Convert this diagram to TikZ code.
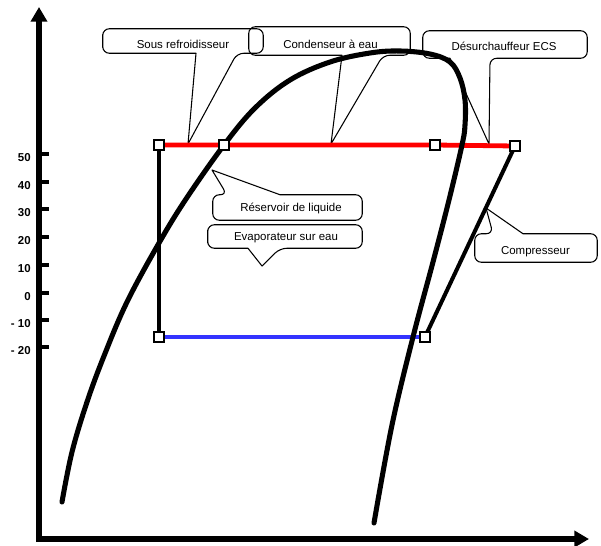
\documentclass[tikz,border=0pt]{standalone}
\usepackage{fontspec}
\setmainfont{Liberation Sans}
\usetikzlibrary{arrows.meta,calc}
\begin{document}
\begin{tikzpicture}[x=0.75pt,y=-0.75pt,
  lbl/.style={font=\fontsize{8.6}{10}\selectfont, inner sep=0pt},
  ticklbl/.style={font=\bfseries\fontsize{8.6}{10}\selectfont, anchor=east, inner sep=0pt},
  cbox/.style={draw=none, inner sep=0pt},
  cline/.style={line width=0.8pt, line join=round},
  sq/.style={draw, fill=white, line width=1.1pt, minimum size=7.8pt, inner sep=0pt},
  axisline/.style={line width=3.8pt, -{Triangle[length=11pt,width=12pt]}},
  tickline/.style={line width=3pt},
  dome/.style={line width=3.8pt, line cap=round, line join=round},
  redline/.style={line width=3.6pt, color=red},
  blueline/.style={line width=3.6pt, color=cyclblue},
  blackline/.style={line width=3pt}
]
\definecolor{cyclblue}{RGB}{51,51,255}
\useasboundingbox (0,0) rectangle (601,546);

% axes
\coordinate (o) at (39,539);
\coordinate (ytop) at (39,7);
\coordinate (xend) at (589,539);
\draw[axisline] (39,542) -- (ytop);
\draw[axisline] (37,539) -- (xend);

% ticks and labels
\foreach \yy/\tt [count=\i] in {154/50,182/40,209/30,237/20,265/10,293/0,320/- 10,347/- 20}{
  \coordinate (t\i a) at (39,\yy);
  \coordinate (t\i b) at (49,\yy);
  \draw[tickline] (t\i a) -- (t\i b);
  \node[ticklbl] (tl\i) at (31,\yy+4) {\tt};
}

% callout boxes
\node[cbox, minimum width=120pt, minimum height=18pt] (sous) at (183,41) {};
\node[cbox, minimum width=120.75pt, minimum height=21pt] (cond) at (329.5,41) {};
\node[cbox, minimum width=123pt, minimum height=20.25pt] (desur) at (505,44.5) {};
\node[cbox, minimum width=111.75pt, minimum height=18.75pt] (reserv) at (287.5,207.5) {};
\node[cbox, minimum width=115.5pt, minimum height=17.25pt] (evap) at (285,236.5) {};
\node[cbox, minimum width=91.5pt, minimum height=21pt] (comp) at (536,248) {};

\node[lbl] (sousT) at (183,44) {Sous refroidisseur};
\node[lbl] (condT) at (330.5,44) {Condenseur à eau};
\node[lbl] (desurT) at (504,46) {Désurchauffeur ECS};
\node[lbl] (reservT) at (291,208) {Réservoir de liquide};
\node[lbl] (evapT) at (286,238) {Evaporateur sur eau};
\node[lbl] (compT) at (535.5,252) {Compresseur};

% wedge coordinates
\coordinate (sb1) at (196,0); \coordinate (sb2) at (237,0); \coordinate (sTip) at (188,144);
\coordinate (cb1) at (342,0); \coordinate (cb2) at (383,0); \coordinate (cTip) at (331,144);
\coordinate (db1) at (450,0); \coordinate (db2) at (490,0); \coordinate (dTip) at (489,144);
\coordinate (rb1) at (227,0); \coordinate (rb2) at (280,0); \coordinate (rTip) at (212,170);
\coordinate (eb1) at (248,0); \coordinate (eb2) at (280,0); \coordinate (eTip) at (262,266);
\coordinate (pb1) at (493,0); \coordinate (pb2) at (523,0); \coordinate (pTip) at (486,208);

% bottom-wedge callouts
\foreach \n/\a/\b/\t in {sous/sb1/sb2/sTip, cond/cb1/cb2/cTip, desur/db1/db2/dTip, evap/eb1/eb2/eTip}{
  \draw[cline, rounded corners=5pt] (\n.west) -- (\n.north west) -- (\n.north east) -- (\n.south east)
     -- (\n.south -| \b) [sharp corners] -- (\t) -- (\n.south -| \a) [rounded corners=5pt]
     -- (\n.south west) -- cycle;
}
% top-wedge callouts
\foreach \n/\a/\b/\t in {reserv/rb1/rb2/rTip, comp/pb1/pb2/pTip}{
  \draw[cline, rounded corners=5pt] (\n.east) -- (\n.south east) -- (\n.south west) -- (\n.north west)
     -- (\n.north -| \a) [sharp corners] -- (\t) -- (\n.north -| \b) [rounded corners=5pt]
     -- (\n.north east) -- cycle;
}

% cycle points
\node[sq] (A) at (159,145) {};
\node[sq] (B) at (224,145) {};
\node[sq] (C) at (435,145) {};
\node[sq] (D) at (515,146) {};
\node[sq] (E) at (425,337) {};
\node[sq] (F) at (159,337) {};

% cycle lines
\draw[redline] (A.center) -- (B.center) -- (C.center) -- (D.center);
\draw[blueline] (E.center) -- (F.center);

% saturation dome
\draw[dome] plot[smooth, tension=0.6] coordinates {
  (62,502) (72,452) (87,402) (104,356) (127,302) (159,243) (186,199) (224,145)
  (255,108) (290,80) (330,62) (370,53) (400,51) (430,54) (450,62) (460,78)
  (465,100) (465,125) (462,145) (449,200) (433,262) (413,337) (392,425) (374,523)};

\draw[blackline] (F.center) -- (A.center);
\draw[blackline] (D.center) -- (E.center);

% squares on top
\foreach \p in {A,B,C,D,E,F}{
  \node[sq] (\p top) at (\p) {};
}
\end{tikzpicture}
\end{document}
